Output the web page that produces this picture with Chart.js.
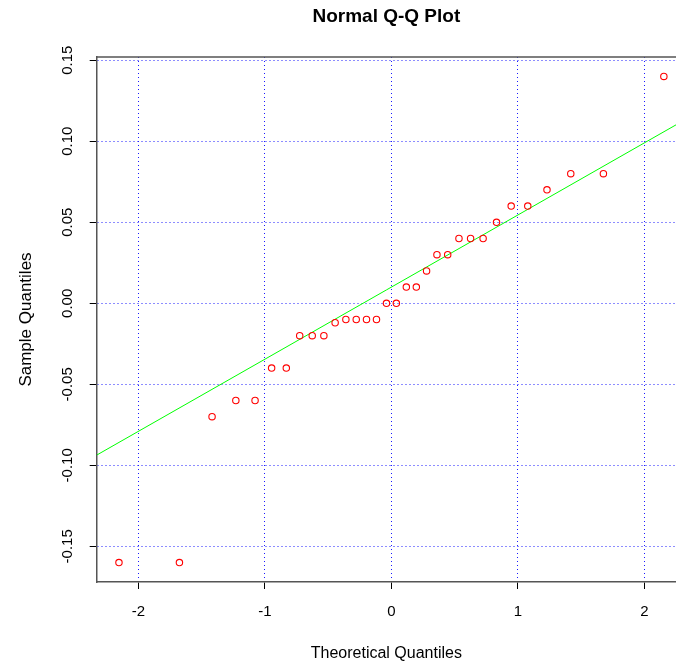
<!DOCTYPE html>
<html>
<head>
<meta charset="utf-8">
<title>Normal Q-Q Plot</title>
<script src="https://cdn.jsdelivr.net/npm/chart.js@4.4.1/dist/chart.umd.min.js"></script>
<style>
  html, body { margin: 0; padding: 0; background: #fff; }
  canvas { display: block; }
</style>
</head>
<body>
<canvas id="qq" width="676" height="666"></canvas>
<script>
// theoretical normal quantiles (x) and sorted sample values (y)
const theoretical = [-2.154, -1.676, -1.418, -1.230, -1.078, -0.947, -0.831, -0.725,
  -0.626, -0.534, -0.445, -0.360, -0.278, -0.197, -0.118, -0.039,
  0.039, 0.118, 0.197, 0.278, 0.360, 0.445, 0.534, 0.626,
  0.725, 0.831, 0.947, 1.078, 1.230, 1.418, 1.676, 2.154];
const sample = [-0.16, -0.16, -0.07, -0.06, -0.06, -0.04, -0.04, -0.02,
  -0.02, -0.02, -0.012, -0.01, -0.01, -0.01, -0.01, 0.00,
  0.00, 0.01, 0.01, 0.02, 0.03, 0.03, 0.04, 0.04,
  0.04, 0.05, 0.06, 0.06, 0.07, 0.08, 0.08, 0.14];

// qqline through the quartiles
const lineIntercept = 0.01;
const lineSlope = 0.0445;

// axis ranges and tick steps
const xRange = [-2.33, 2.25];
const yRange = [-0.172, 0.152];
const xStep = 1;
const yStep = 0.05;

const FONT = "Arial, 'Liberation Sans', sans-serif";

// R's box(): top edge (left/bottom come from the axis borders)
const boxTop = {
  id: 'boxTop',
  beforeDatasetsDraw(chart) {
    const { ctx, chartArea: a } = chart;
    ctx.save();
    ctx.strokeStyle = '#555';
    ctx.lineWidth = 1.5;
    ctx.beginPath();
    ctx.moveTo(a.left, a.top);
    ctx.lineTo(a.right, a.top);
    ctx.stroke();
    ctx.restore();
  }
};

// dotted blue grid at the ticks, solid black tick marks outside
function gridOpts() {
  return {
    color: '#1a1aff',
    lineWidth: 1,
    drawTicks: true,
    tickLength: 7,
    tickColor: '#000',
    tickWidth: 1,
    tickBorderDash: [],
  };
}

new Chart(document.getElementById('qq'), {
  type: 'scatter',
  data: {
    datasets: [
      {
        label: 'sample',
        data: theoretical.map((x, i) => ({ x, y: sample[i] })),
        pointStyle: 'circle',
        pointRadius: 3.2,
        pointBorderWidth: 1.1,
        pointBorderColor: '#ff0000',
        pointBackgroundColor: 'rgba(0,0,0,0)',
        showLine: false,
        order: 1,
      },
      {
        label: 'qqline',
        data: xRange.map(x => ({ x, y: lineIntercept + lineSlope * x })),
        showLine: true,
        borderColor: '#00ff00',
        borderWidth: 1,
        pointRadius: 0,
        order: 2,
      },
    ],
  },
  options: {
    responsive: false,
    animation: false,
    layout: { padding: 0, autoPadding: false },
    plugins: {
      legend: { display: false },
      tooltip: { enabled: false },
      title: {
        display: true,
        text: 'Normal Q-Q Plot',
        fullSize: false,
        color: '#000',
        font: { family: FONT, size: 19, weight: 'bold' },
        padding: { top: 5.5, bottom: 28.7 },
      },
    },
    scales: {
      x: {
        type: 'linear',
        position: 'bottom',
        min: xRange[0],
        max: xRange[1],
        afterFit: s => { s.height = 84; },
        ticks: {
          stepSize: xStep,
          includeBounds: false,
          color: '#000',
          padding: 14,
          font: { family: FONT, size: 15 },
          callback: v => String(v),
        },
        grid: gridOpts(),
        border: { display: true, color: '#555', width: 1.5, dash: [1, 3] },
        title: {
          display: true,
          text: 'Theoretical Quantiles',
          color: '#000',
          font: { family: FONT, size: 16 },
          padding: { top: 0, bottom: 2.4 },
        },
      },
      y: {
        type: 'linear',
        position: 'left',
        min: yRange[0],
        max: yRange[1],
        afterFit: s => { s.width = 96.7; },
        ticks: {
          stepSize: yStep,
          includeBounds: false,
          color: '#000',
          minRotation: 90,
          maxRotation: 90,
          crossAlign: 'center',
          padding: 5,
          font: { family: FONT, size: 15 },
          callback: v => v.toFixed(2),
        },
        grid: gridOpts(),
        border: { display: true, color: '#555', width: 1.5, dash: [1, 3] },
        title: {
          display: true,
          text: 'Sample Quantiles',
          color: '#000',
          font: { family: FONT, size: 17 },
          padding: { top: 16.5, bottom: 0 },
        },
      },
    },
  },
  plugins: [boxTop],
});
</script>
</body>
</html>
